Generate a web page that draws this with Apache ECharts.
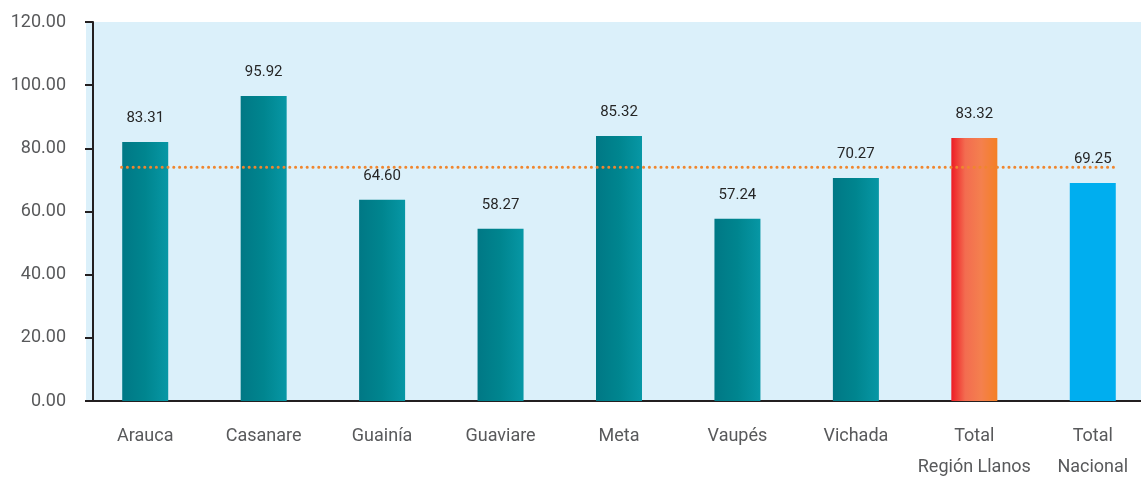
<!DOCTYPE html>
<html lang="es">

<head>
    <meta charset="UTF-8">
    <title>Region Llanos</title>
    <script src="https://cdnjs.cloudflare.com/ajax/libs/echarts/6.0.0/echarts.min.js"></script>
    <style>
        html, body { margin: 0; padding: 0; overflow: hidden; background: #fff; }
    </style>
</head>

<body>
    <div id="main" style="width: 1152px;height:478px;"></div>
    <script>
        // categorias y valores
        const categories = ['Arauca', 'Casanare', 'Guainía', 'Guaviare', 'Meta', 'Vaupés', 'Vichada', 'Total\nRegión Llanos', 'Total\nNacional'];
        const barValues = [82.0, 96.6, 63.7, 54.5, 83.9, 57.7, 70.6, 83.3, 69.05];
        const labelTexts = ['83.31', '95.92', '64.60', '58.27', '85.32', '57.24', '70.27', '83.32', '69.25'];
        const yTicks = [0, 20, 40, 60, 80, 100, 120];
        // linea punteada de referencia
        const refValue = 74.0;
        const refSpan = [-0.2, 8.2];

        const chart = echarts.init(document.getElementById('main'));

        const font = 'Roboto, "Liberation Sans Narrow", sans-serif';
        const axisColor = '#231f20';

        function grad(stops) {
            return new echarts.graphic.LinearGradient(0, 0, 1, 0, stops);
        }
        const teal = grad([{ offset: 0, color: '#007885' }, { offset: 0.5, color: '#00858f' }, { offset: 1, color: '#0797a5' }]);
        const red = grad([{ offset: 0, color: '#ed1c24' }, { offset: 0.3, color: '#f36c50' }, { offset: 0.65, color: '#f4804e' }, { offset: 1, color: '#f48024' }]);

        const barData = barValues.map((v, i) => {
            let color = teal;
            if (i === 7) color = red;
            if (i === 8) color = '#00aeef';
            return { value: v, itemStyle: { color: color } };
        });

        let option = {
            animation: false,
            grid: {
                left: 86, right: 0, top: 22, bottom: 77,
                outerBoundsMode: 'none',
                show: true, backgroundColor: '#dbf0fa', borderWidth: 0
            },
            xAxis: [
                {
                    type: 'category',
                    data: categories,
                    axisLine: { lineStyle: { color: axisColor, width: 2 } },
                    axisTick: { length: 8, lineStyle: { color: axisColor, width: 2 } },
                    axisLabel: {
                        margin: 20, fontFamily: font, fontSize: 18, lineHeight: 31,
                        color: '#58595b', interval: 0
                    }
                },
                {
                    type: 'value', min: -0.5, max: 8.5, show: false
                }
            ],
            yAxis: {
                type: 'value',
                min: yTicks[0],
                max: yTicks[yTicks.length - 1],
                interval: 20,
                offset: -7,
                axisLine: { show: true, onZero: false, lineStyle: { color: axisColor, width: 2 } },
                axisTick: { show: true, length: 8, lineStyle: { color: axisColor, width: 2 } },
                splitLine: { show: false },
                axisLabel: {
                    margin: 27, fontFamily: font, fontSize: 18, color: '#58595b',
                    formatter: v => v.toFixed(2)
                }
            },
            series: [
                {
                    type: 'bar',
                    data: barData,
                    barWidth: 46,
                    label: {
                        show: true, position: 'top', distance: 16,
                        fontFamily: font, fontSize: 15, color: '#262626',
                        formatter: p => labelTexts[p.dataIndex]
                    }
                },
                {
                    type: 'line',
                    xAxisIndex: 1,
                    data: [[refSpan[0], refValue], [refSpan[1], refValue]],
                    symbol: 'none',
                    z: 5,
                    lineStyle: { color: '#f0862e', width: 3, type: [0.1, 5.7], cap: 'round' }
                }
            ]
        };

        chart.setOption(option);
    </script>
</body>

</html>
